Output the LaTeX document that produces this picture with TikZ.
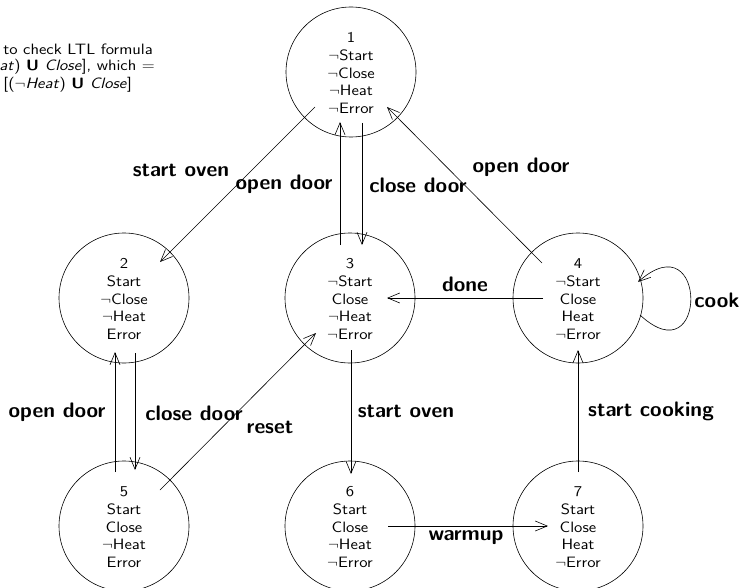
\documentclass[tikz,border=0pt]{standalone}
\usetikzlibrary{arrows.meta,calc}
\newcommand\statetext[1]{\raisebox{-2.5pt}[\height][\depth]{\scalebox{1.13}[1]{\begin{tabular}{@{}c@{}}#1\end{tabular}}}}
\newcommand\notetext[1]{\scalebox{1.13}[1]{#1}}
\begin{document}
\begin{tikzpicture}[x=1pt,y=-1pt,
  state/.style={draw,circle,minimum size=130pt,inner sep=0pt,
    font=\sffamily\fontsize{15}{17.7}\selectfont,line width=0.6pt},
  trans/.style={line width=0.6pt,-{Straight Barb[length=12pt,width=10pt]}},
  lbl/.style={font=\sffamily\bfseries\fontsize{21}{22}\selectfont,inner sep=0pt},
  note/.style={font=\sffamily\fontsize{15}{17.7}\selectfont,anchor=east,inner sep=0pt}]
\useasboundingbox (0,0) rectangle (746,588);

% note (clipped at the left edge in the reference)
\node[note] (t1) at (153,49) {\notetext{to check LTL formula}};
\node[note] (t2) at (155,67) {\notetext{\textit{at}) \textbf{U} \textit{Close}], which =}};
\node[note] (t3) at (132,85) {\notetext{[(\(\neg\)\textit{Heat}) \textbf{U} \textit{Close}]}};

% states
\node[state] (n1) at (351,72)  {\statetext{1\\\(\neg\)Start\\\(\neg\)Close\\\(\neg\)Heat\\\(\neg\)Error}};
\node[state] (n2) at (124,298) {\statetext{2\\Start\\\(\neg\)Close\\\(\neg\)Heat\\Error}};
\node[state] (n3) at (350,298) {\statetext{3\\\(\neg\)Start\\Close\\\(\neg\)Heat\\\(\neg\)Error}};
\node[state] (n4) at (578,298) {\statetext{4\\\(\neg\)Start\\Close\\Heat\\\(\neg\)Error}};
\node[state] (n5) at (124,526) {\statetext{5\\Start\\Close\\\(\neg\)Heat\\Error}};
\node[state] (n6) at (350,526) {\statetext{6\\Start\\Close\\\(\neg\)Heat\\\(\neg\)Error}};
\node[state] (n7) at (578,526) {\statetext{7\\Start\\Close\\Heat\\\(\neg\)Error}};

% connector end points inside the states
\coordinate (a12) at ($(n1)+(-36,35)$);
\coordinate (b12) at ($(n2)+(36,-36)$);
\coordinate (a31) at ($(n3)+(-10,-53)$);
\coordinate (b31) at ($(n1)+(-11,50)$);
\coordinate (a13) at ($(n1)+(11,51)$);
\coordinate (b13) at ($(n3)+(12,-53)$);
\coordinate (a41) at ($(n4)+(-36,-35)$);
\coordinate (b41) at ($(n1)+(36,35)$);
\coordinate (a43) at ($(n4)+(-35,0)$);
\coordinate (b43) at ($(n3)+(37,0)$);
\coordinate (a44) at ($(n4)+(62,17)$);
\coordinate (b44) at ($(n4)+(60,-16)$);
\coordinate (a25) at ($(n2)+(11,55)$);
\coordinate (b25) at ($(n5)+(11,-56)$);
\coordinate (a52) at ($(n5)+(-9,-54)$);
\coordinate (b52) at ($(n2)+(-9,54)$);
\coordinate (a53) at ($(n5)+(36,-36)$);
\coordinate (b53) at ($(n3)+(-34,35)$);
\coordinate (a36) at ($(n3)+(1,52)$);
\coordinate (b36) at ($(n6)+(1,-52)$);
\coordinate (a67) at ($(n6)+(38,0)$);
\coordinate (b67) at ($(n7)+(-30,0)$);
\coordinate (a74) at ($(n7)+(0,-54)$);
\coordinate (b74) at ($(n4)+(0,52)$);

% transitions
\draw[trans] (a12) -- (b12);
\draw[trans] (a31) -- (b31);
\draw[trans] (a13) -- (b13);
\draw[trans] (a41) -- (b41);
\draw[trans] (a43) -- (b43);
\draw[trans] (a44) .. controls ($(n4)+(130,80)$) and ($(n4)+(130,-78)$) .. (b44);
\draw[trans] (a25) -- (b25);
\draw[trans] (a52) -- (b52);
\draw[trans] (a53) -- (b53);
\draw[trans] (a36) -- (b36);
\draw[trans] (a67) -- (b67);
\draw[trans] (a74) -- (b74);

% labels
\node[lbl] (l12) at (181,170) {start oven};
\node[lbl] (l31) at (284,184) {open door};
\node[lbl] (l13) at (418,185) {close door};
\node[lbl] (l41) at (521,167) {open door};
\node[lbl] (l43) at (465,284) {done};
\node[lbl] (l44) at (717,300) {cook};
\node[lbl] (l52) at (57,412)  {open door};
\node[lbl] (l25) at (194,413) {close door};
\node[lbl] (l53) at (270,427) {reset};
\node[lbl] (l36) at (406,411) {start oven};
\node[lbl] (l74) at (651,411) {start cooking};
\node[lbl] (l67) at (466,538) {warmup};
\end{tikzpicture}
\end{document}
